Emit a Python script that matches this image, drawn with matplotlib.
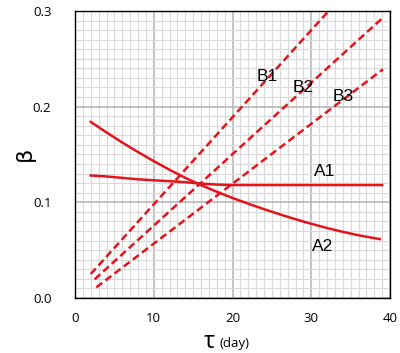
import numpy as np
import matplotlib.pyplot as plt

# values
a1_x = [2, 4, 6, 8, 10, 12, 14, 16, 18, 20, 25, 30, 35, 39]
a1_y = [0.128, 0.127, 0.1255, 0.124, 0.123, 0.122, 0.121, 0.1195, 0.1185, 0.118,
        0.118, 0.118, 0.118, 0.118]
a2_x = [2, 4, 6, 8, 10, 12, 14, 16, 18, 20, 22, 24, 26, 28, 30, 32, 34, 36, 38.7]
a2_y = [0.184, 0.173, 0.1625, 0.1525, 0.143, 0.134, 0.1255, 0.118, 0.111, 0.1045,
        0.0985, 0.0928, 0.0874, 0.0823, 0.0775, 0.0731, 0.0691, 0.0655, 0.0615]
b1_x = [2, 32.1]
b1_y = [0.025, 0.299]
b2_x = [2.5, 38.9]
b2_y = [0.0195, 0.2915]
b3_x = [2.7, 39.1]
b3_y = [0.011, 0.239]

labels = ['A1', 'A2', 'B1', 'B2', 'B3']
label_pos = [(31.7, 0.132), (31.4, 0.054), (24.4, 0.231), (29.0, 0.220), (34.0, 0.211)]

red = '#e3141b'

fig = plt.figure(figsize=(4, 3.53), dpi=100)
ax = fig.add_axes([0.1875, 0.156, 0.7875, 0.813])

ax.set_xlim(0, 40)
ax.set_ylim(0, 0.3)
ax.set_xticks([0, 10, 20, 30, 40])
ax.set_yticks([0.0, 0.1, 0.2, 0.3])
ax.set_yticklabels(['0.0', '0.1', '0.2', '0.3'])
ax.set_xticks(np.arange(0, 41, 1), minor=True)
ax.set_yticks(np.arange(0, 0.301, 0.01), minor=True)
ax.grid(which='minor', color='#d9d9d9', lw=0.8)
ax.grid(which='major', color='#b3b3b3', lw=1.1)
ax.set_axisbelow(True)
ax.tick_params(which='both', length=0, labelsize=9.5)
ax.tick_params(axis='x', pad=10)
ax.tick_params(axis='y', pad=17)
for lab in ax.get_xticklabels() + ax.get_yticklabels():
    lab.set_family('Open Sans')
for s in ax.spines.values():
    s.set_color('black')
    s.set_linewidth(1.0)

ax.plot(a1_x, a1_y, color=red, lw=1.8)
ax.plot(a2_x, a2_y, color=red, lw=1.8)
for xs, ys in [(b1_x, b1_y), (b2_x, b2_y), (b3_x, b3_y)]:
    ax.plot(xs, ys, color=red, lw=1.8, ls=(0, (3, 1.6)))

for name, (tx, ty) in zip(labels, label_pos):
    ax.text(tx, ty, name, ha='center', va='center', fontsize=12.5,
            family='Liberation Sans')

fig.text(0.063, 0.565, 'β', rotation=90, ha='center', va='center', fontsize=16,
         family='DejaVu Sans')
fig.text(0.523, 0.032, 'τ', ha='center', va='center', fontsize=17, family='Open Sans')
fig.text(0.587, 0.028, '(day)', ha='center', va='center', fontsize=9.5, family='Open Sans')

fig.savefig('out.png', dpi=100)
